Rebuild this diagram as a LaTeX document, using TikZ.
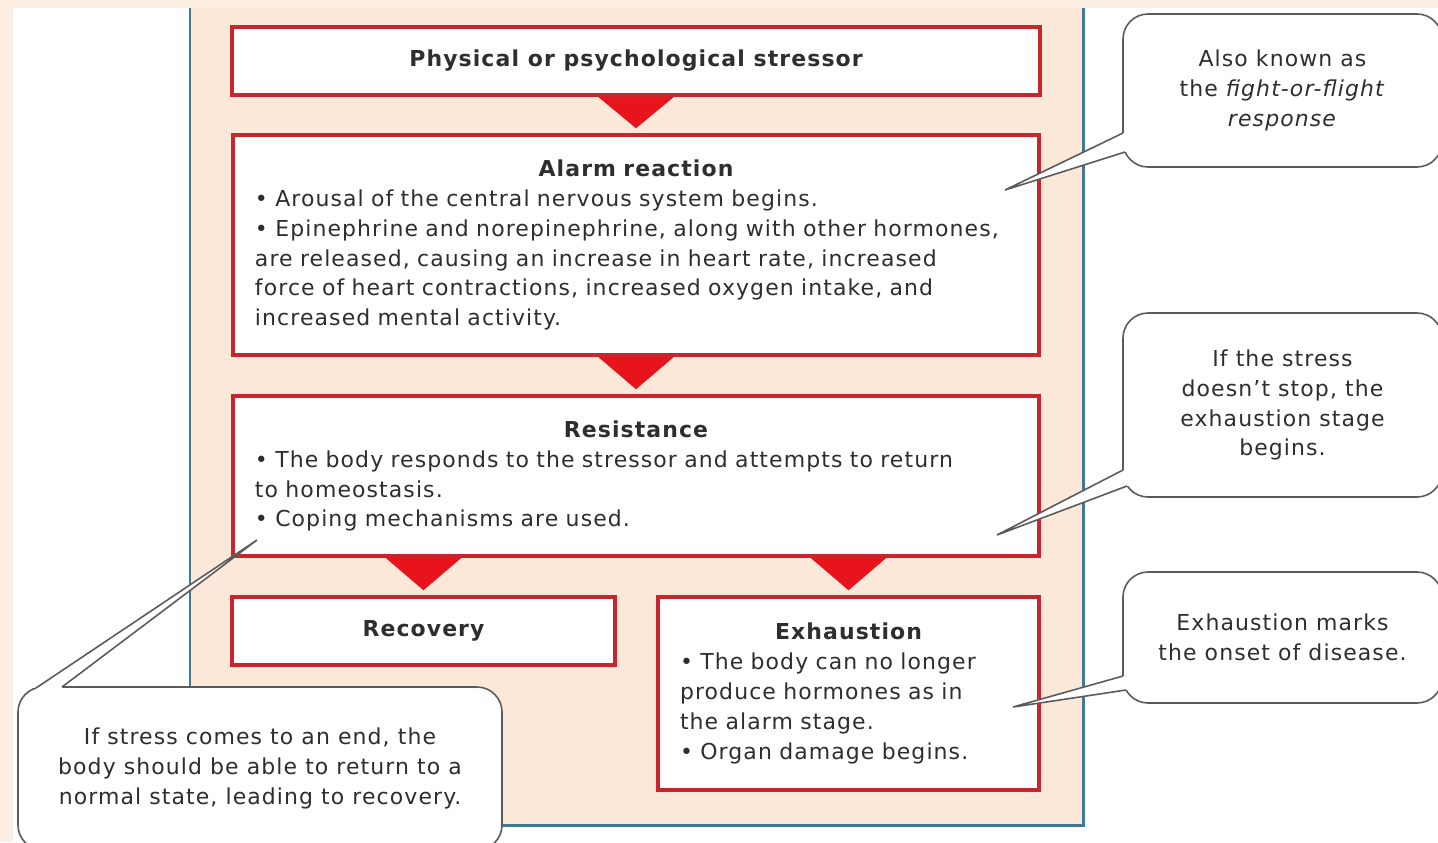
\documentclass[tikz,border=0pt]{standalone}
\usepackage{fontspec}
\setmainfont{DejaVu Sans}[LetterSpace=5]
\usetikzlibrary{calc}
\definecolor{edgepeach}{HTML}{FDEEE4}
\definecolor{panelpeach}{HTML}{FCE8D8}
\definecolor{frameblue}{HTML}{3F7A93}
\definecolor{boxred}{HTML}{C8262F}
\definecolor{tipred}{HTML}{E8141C}
\definecolor{calloutgray}{HTML}{5A5A5A}
\definecolor{inkgray}{HTML}{2E2E2E}
\begin{document}
\begin{tikzpicture}[x=0.2mm,y=-0.2mm]
\tikzstyle{every node}=[text=inkgray,font=\fontsize{12.5}{17}\selectfont]
\tikzstyle{stage}=[draw=boxred,line width=2pt,fill=white,rectangle,inner xsep=4.4mm,inner ysep=0pt,align=left]
\tikzstyle{callout}=[draw=calloutgray,line width=0.9pt,fill=white,rectangle,rounded corners=5mm,align=center,minimum width=63.8mm]
\tikzstyle{tri}=[fill=tipred]
\tikzstyle{tail}=[draw=calloutgray,line width=0.9pt]
\useasboundingbox (0,0) rectangle (1438,842);
% background and frame
\fill[edgepeach] (0,0) rectangle (1438,842);
\fill[white] (13,8) rectangle (1438,842);
\fill[panelpeach] (190,8) rectangle (1083,825);
\draw[frameblue,line width=1.7pt] (190,8) -- (190,825) -- (1083,825) -- (1083,8);
% stages
\node[stage,align=center,minimum width=161.6mm,minimum height=13.6mm](s0) at (636,61) {\bfseries Physical or psychological stressor};
\node[stage,text width=152.4mm,minimum height=44mm](s1) at (636,245) {\centerline{\bfseries Alarm reaction}
\textbullet\ Arousal of the central nervous system begins.\\
\textbullet\ Epinephrine and norepinephrine, along with other hormones,\\
are released, causing an increase in heart rate, increased\\
force of heart contractions, increased oxygen intake, and\\
increased mental activity.};
\node[stage,text width=152.4mm,minimum height=32mm](s2) at (636,476) {\centerline{\bfseries Resistance}
\textbullet\ The body responds to the stressor and attempts to return\\
to homeostasis.\\
\textbullet\ Coping mechanisms are used.};
\node[stage,align=center,minimum width=76.6mm,minimum height=13.6mm](s3) at (423.5,631) {\bfseries Recovery};
\node[stage,text width=67.4mm,minimum height=38.6mm](s4) at (848.5,693.5) {\centerline{\bfseries Exhaustion}
\textbullet\ The body can no longer\\
produce hormones as in\\
the alarm stage.\\
\textbullet\ Organ damage begins.};
% red arrow heads
\fill[tri] ($(s0.south)+(-38,0)$) -- ($(s0.south)+(38,0)$) -- ($(s1.north)+(0,-5)$) -- cycle;
\fill[tri] ($(s1.south)+(-38,0)$) -- ($(s1.south)+(38,0)$) -- ($(s2.north)+(0,-5)$) -- cycle;
\fill[tri] ($(s2.south -| s3.north)+(-38,0)$) -- ($(s2.south -| s3.north)+(38,0)$) -- ($(s3.north)+(0,-5)$) -- cycle;
\fill[tri] ($(s2.south -| s4.north)+(-38,0)$) -- ($(s2.south -| s4.north)+(38,0)$) -- ($(s4.north)+(0,-5)$) -- cycle;
% callouts
\node[callout,minimum height=30.6mm](cA) at (1282.5,90.5) {Also known as\\ the \textit{fight-or-flight}\\ \textit{response}};
\node[callout,minimum height=36.8mm](cB) at (1282.5,405) {If the stress\\ doesn't stop, the\\ exhaustion stage\\ begins.};
\node[callout,minimum height=26.2mm](cC) at (1282.5,637.5) {Exhaustion marks\\ the onset of disease.};
\node[callout,minimum width=96.8mm,minimum height=32.6mm](cD) at (260,768.5) {If stress comes to an end, the\\ body should be able to return to a\\ normal state, leading to recovery.};
% callout tails
\coordinate (tA) at (1005,190);
\coordinate (a1) at (1123,133);
\coordinate (a2) at (1125,152);
\fill[white] (a1) -- (tA) -- (a2) -- ($(a2)+(8,-2)$) -- ($(a1)+(8,0)$) -- cycle;
\draw[tail] (a1) -- (tA) -- (a2);
\coordinate (tB) at (997,535);
\coordinate (b1) at (1123,470);
\coordinate (b2) at (1127,486);
\fill[white] (b1) -- (tB) -- (b2) -- ($(b2)+(8,-2)$) -- ($(b1)+(8,0)$) -- cycle;
\draw[tail] (b1) -- (tB) -- (b2);
\coordinate (tC) at (1013,707);
\coordinate (c1) at (1123,676);
\coordinate (c2) at (1126,690);
\fill[white] (c1) -- (tC) -- (c2) -- ($(c2)+(8,-2)$) -- ($(c1)+(8,0)$) -- cycle;
\draw[tail] (c1) -- (tC) -- (c2);
\coordinate (tD) at (257,540);
\coordinate (d1) at (36,688);
\coordinate (d2) at (62,687);
\fill[white] (d1) -- (tD) -- (d2) -- ($(d2)+(0,8)$) -- ($(d1)+(2,8)$) -- cycle;
\draw[tail] (d1) -- (tD) -- (d2);
\end{tikzpicture}
\end{document}
